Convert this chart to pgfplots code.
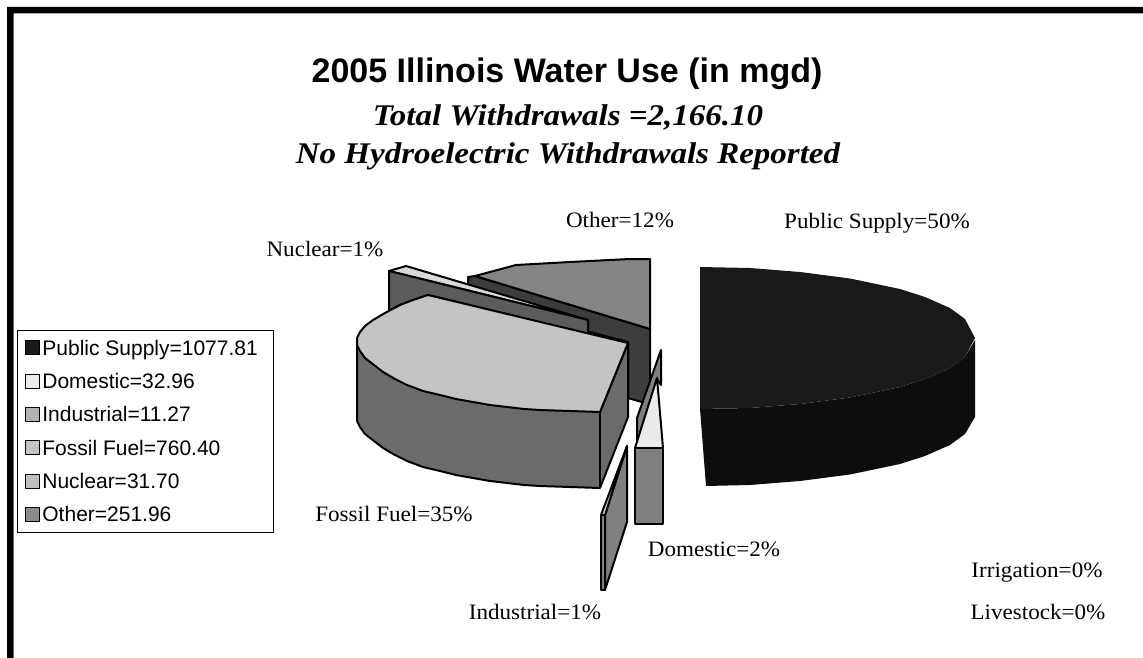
\documentclass[border=0pt]{standalone}
\usepackage{pgfplots}
\pgfplotsset{compat=1.18}
\usepackage{fontspec}
\setmainfont{Liberation Serif}
\newfontfamily\arial{Liberation Sans}
\newfontfamily\subfont[FakeStretch=1.1]{Liberation Serif}
\newfontfamily\labfont[FakeStretch=1.05]{Liberation Serif}
\definecolor{cPublicTop}{gray}{0.10}
\definecolor{cPublicSide}{gray}{0.05}
\definecolor{cFossilTop}{gray}{0.77}
\definecolor{cFossilSide}{gray}{0.42}
\definecolor{cOtherTop}{gray}{0.52}
\definecolor{cOtherSide}{gray}{0.24}
\definecolor{cNucSide}{gray}{0.36}
\definecolor{cLight}{gray}{0.85}
\definecolor{cDomTop}{gray}{0.92}
\definecolor{cDomSide}{gray}{0.50}
\newcommand{\lab}[3]{\node[font={\labfont\fontsize{22}{25}\selectfont},anchor=center,inner sep=0pt] at (axis cs:#1,#2) {#3};}
\begin{document}
\begin{tikzpicture}
\begin{axis}[
  scale only axis, width=1143pt, height=658pt,
  xmin=0, xmax=1143, ymin=0, ymax=658, y dir=reverse,
  hide axis, clip=false,
  legend style={at={(axis cs:17,330)},anchor=north west,draw=black,line width=0.8pt,
    font={\arial\fontsize{21}{24}\selectfont},row sep=12.6pt,inner xsep=8pt,inner ysep=7.5pt,
    legend cell align=left,/tikz/every even column/.style={column sep=3pt}},
  legend image code/.code={\draw[#1,line width=1pt] (0pt,-6.5pt) rectangle (14pt,7.5pt);},
]
\path (axis cs:0,0) rectangle (axis cs:1143,658);
\addlegendimage{fill=cPublicTop,draw=black}\addlegendentry{Public Supply=1077.81\rule{6pt}{0pt}}
\addlegendimage{fill=cDomTop,draw=black}\addlegendentry{Domestic=32.96}
\addlegendimage{fill=gray!60,draw=black}\addlegendentry{Industrial=11.27}
\addlegendimage{fill=cFossilTop,draw=black}\addlegendentry{Fossil Fuel=760.40}
\addlegendimage{fill=gray!50,draw=black}\addlegendentry{Nuclear=31.70}
\addlegendimage{fill=gray!90,draw=black}\addlegendentry{Other=251.96}
\pgfplotsset{every axis plot/.append style={forget plot,line width=2pt,line join=round}}
% frame
\addplot[fill=black,draw=none] coordinates {(7,7)(1143,7)(1143,13.5)(13.5,13.5)(13.5,658)(7,658)} --cycle;
% Other
\addplot[fill=cOtherSide,draw=black] coordinates {(468,277)(475,276)(650,329)(650,387)(645,403)(628,398)(628,342)(468,300)} --cycle;
\addplot[fill=cOtherTop,draw=black] coordinates {(475,276)(516,265)(570,262)(630,259)(650,259)(650,329)} --cycle;
% Nuclear
\addplot[fill=cLight,draw=black] coordinates {(389,271)(406,266)(588,320)} --cycle;
\addplot[fill=cNucSide,draw=black] coordinates {(389,271)(588,320)(588,334)(428,295)(400,305)(389,311)} --cycle;
% Fossil fuel
\addplot[fill=cFossilSide,draw=black] coordinates {(357,345)(357,421)(360,427)(365,434)(374,441)(383,448)(395,455)(407,461)(423,467)(440,471)(456,475)(473,478)(490,481)(507,483)(524,485)(540,486)(570,487)(600,488)(628,417)(628,343)(600,412)} --cycle;
\addplot[fill=cFossilTop,draw=black] coordinates {(428,295)(413,300)(400,305)(385,313)(373,320)(365,326)(360,332)(357,338)(357,345)(360,351)(365,358)(374,365)(383,372)(395,379)(407,385)(423,391)(440,395)(456,399)(473,402)(490,405)(507,407)(524,409)(540,410)(570,411)(600,412)(628,343)} --cycle;
\addplot[draw=black,no marks] coordinates {(600,412)(600,488)};
% Domestic
\addplot[fill=cDomSide,draw=black] coordinates {(661,350)(637,418)(637,447)(657,379)(661,385)} --cycle;
\addplot[fill=cDomTop,draw=black] coordinates {(657,378)(635,448)(663,448)} --cycle;
\addplot[fill=cDomSide,draw=black] coordinates {(635,448)(663,448)(663,524)(635,524)} --cycle;
% Industrial
\addplot[fill=cDomSide,draw=black] coordinates {(605,515)(627,446)(627,522)(605,590)} --cycle;
\addplot[fill=cLight,draw=black] coordinates {(601,515)(605,515)(627,446)} --cycle;
\addplot[fill=cDomSide,draw=black] coordinates {(601,515)(605,515)(605,590)(601,590)} --cycle;
% Public supply
\addplot[fill=cPublicSide,draw=none] coordinates {(700,409)(750,408)(800,404)(850,397.5)(900,387)(925,379)(950,368)(965,357)(975,340)(975,417)(965,434)(950,445)(925,456)(900,464)(850,474.5)(800,481)(750,485)(706,486)} --cycle;
\addplot[fill=cPublicTop,draw=none] coordinates {(700,267)(750,268)(800,272)(850,278.5)(900,289)(925,297)(950,308)(965,319)(975,338)(965,357)(950,368)(925,379)(900,387)(850,397.5)(800,404)(750,408)(700,409)} --cycle;
% text
\node[font={\arial\bfseries\fontsize{34}{38}\selectfont},inner sep=0pt] at (axis cs:567,74) {2005 Illinois Water Use (in mgd)};
\node[font={\subfont\bfseries\itshape\fontsize{30}{34}\selectfont},inner sep=0pt] at (axis cs:568,117) {Total Withdrawals =2,166.10};
\node[font={\subfont\bfseries\itshape\fontsize{30}{34}\selectfont},inner sep=0pt] at (axis cs:568,156) {No Hydroelectric Withdrawals Reported};
\lab{877}{223}{Public Supply=50\%}
\lab{620}{220}{Other=12\%}
\lab{325}{249}{Nuclear=1\%}
\lab{394}{514}{Fossil Fuel=35\%}
\lab{714}{549}{Domestic=2\%}
\lab{535}{612}{Industrial=1\%}
\lab{1037}{573}{Irrigation=0\%}
\lab{1038}{612}{Livestock=0\%}
\end{axis}
\end{tikzpicture}
\end{document}
